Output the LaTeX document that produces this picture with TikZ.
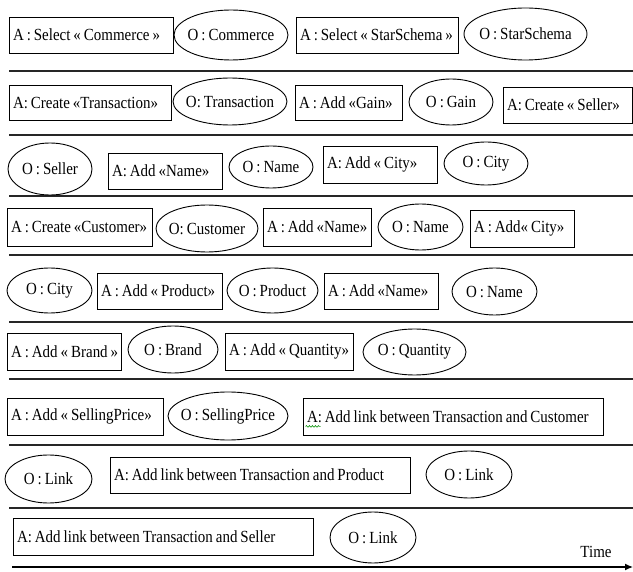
\documentclass[tikz,border=0pt]{standalone}
\usepackage{fontspec}
\setmainfont{Liberation Serif}[FakeStretch=0.88, WordSpace=0.8]
\usetikzlibrary{shapes.geometric,arrows.meta,decorations.pathmorphing}
\begin{document}
\begin{tikzpicture}[x=1pt,y=-1pt,
  every node/.style={font=\fontsize{17}{19}\selectfont, text=black},
  abox/.style={draw, line width=0.9pt, rectangle, inner xsep=4pt, inner ysep=0pt, minimum height=36pt, align=left,
    execute at begin node={\spaceskip=0pt\xspaceskip=0pt\relax}},
  oell/.style={draw, line width=0.9pt, ellipse, inner sep=0pt},
  sepline/.style={line width=1.2pt, draw=black!85}]
\useasboundingbox (0,0) rectangle (633,572);

% separators
\foreach \yy in {71,135,196,255,322,379,445,508}
  \draw[sepline] (9,\yy) -- (633,\yy);

% row 1
\node[abox, text width=156pt] (a1) at (91,35) {\mbox{A : Select « Commerce »}};
\node[oell, minimum width=114pt, minimum height=50pt] (o1) at (231,35) {\makebox[0pt]{O : Commerce}};
\node[abox, text width=154pt] (a2) at (377,35) {\mbox{A : Select « StarSchema »}};
\node[oell, minimum width=123pt, minimum height=52pt] (o2) at (525.5,34) {\makebox[0pt]{O : StarSchema}};

% row 2
\node[abox, text width=154pt, minimum height=35pt] (a3) at (90,102.5) {\mbox{A: Create «Transaction»}};
\node[oell, minimum width=114pt, minimum height=47pt] (o3) at (230,101.5) {\makebox[0pt]{O: Transaction}};
\node[abox, text width=99pt, minimum height=35pt] (a4) at (348.5,102.5) {\mbox{A : Add «Gain»}};
\node[oell, minimum width=84pt, minimum height=46pt] (o4) at (451,102) {\makebox[0pt]{O : Gain}};
\node[abox, text width=121pt] (a5) at (567.5,105) {\mbox{A: Create « Seller»}};

% row 3
\node[oell, minimum width=84pt, minimum height=52pt] (o5) at (50,169) {\makebox[0pt]{O : Seller}};
\node[abox, text width=106pt] (a6) at (165,171) {\mbox{A: Add «Name»}};
\node[oell, minimum width=84pt, minimum height=42pt] (o6) at (271,167) {\makebox[0pt]{O : Name}};
\node[abox, text width=106pt, minimum height=37pt] (a7) at (380,164.5) {\mbox{A: Add « City»}};
\node[oell, minimum width=84pt, minimum height=43pt] (o7) at (486,163.5) {\makebox[0pt]{O : City}};

% row 4
\node[abox, text width=137pt, minimum height=38pt] (a8) at (79.5,227) {\mbox{A : Create «Customer»}};
\node[oell, minimum width=102pt, minimum height=47pt] (o8) at (207,228.5) {\makebox[0pt]{O: Customer}};
\node[abox, text width=100pt, minimum height=38pt] (a9) at (317,227) {\mbox{A : Add «Name»}};
\node[oell, minimum width=85pt, minimum height=46pt] (o9) at (420.5,227) {\makebox[0pt]{O : Name}};
\node[abox, text width=96pt, minimum height=37pt] (a10) at (522,228.5) {\mbox{A : Add« City»}};

% row 5
\node[oell, minimum width=85pt, minimum height=45pt] (o10) at (49.5,290.5) {\makebox[0pt]{O : City}};
\node[abox, text width=117pt] (a11) at (159.5,291) {\mbox{A : Add « Product»}};
\node[oell, minimum width=91pt, minimum height=45pt] (o11) at (272.5,290.5) {\makebox[0pt]{O : Product}};
\node[abox, text width=106pt] (a12) at (381,291) {\mbox{A : Add «Name»}};
\node[oell, minimum width=85pt, minimum height=47pt] (o12) at (494.5,291.5) {\makebox[0pt]{O : Name}};

% row 6
\node[abox, text width=106pt, minimum height=37pt] (a13) at (64,351.5) {\mbox{A : Add « Brand »}};
\node[oell, minimum width=90pt, minimum height=47pt] (o13) at (173,349.5) {\makebox[0pt]{O : Brand}};
\node[abox, text width=120pt, minimum height=37pt] (a14) at (289,351.5) {\mbox{A : Add « Quantity»}};
\node[oell, minimum width=103pt, minimum height=46pt] (o14) at (414.5,352) {\makebox[0pt]{O : Quantity}};

% row 7
\node[abox, text width=148pt, minimum height=37pt] (a15) at (85,416.5) {\mbox{A : Add « SellingPrice»}};
\node[oell, minimum width=120pt, minimum height=48pt] (o15) at (228,416) {\makebox[0pt]{O : SellingPrice}};
\node[abox, text width=292pt, minimum height=37pt] (a16) at (453,416.5) {\mbox{A: Add link between Transaction and Customer}};
\draw[green!55!black, line width=0.6pt, decorate, decoration={snake, amplitude=0.8pt, segment length=3pt}]
  ([xshift=3pt,yshift=9pt]a16.south west) -- ++(15,0);

% row 8
\node[oell, minimum width=87pt, minimum height=48pt] (o16) at (48.5,479) {\makebox[0pt]{O : Link}};
\node[abox, text width=292pt] (a17) at (260,475) {\mbox{A: Add link between Transaction and Product}};
\node[oell, minimum width=86pt, minimum height=47pt] (o17) at (469,474.5) {\makebox[0pt]{O : Link}};

% row 9
\node[abox, text width=292pt, minimum height=37pt] (a18) at (163,536.5) {\mbox{A: Add link between Transaction and Seller}};
\node[oell, minimum width=86pt, minimum height=51pt] (o18) at (373,537.5) {\makebox[0pt]{O : Link}};
\node (time) at (596,552) {Time};

% time axis
\coordinate (t0) at (12,567);
\coordinate (t1) at (633,567);
\draw[line width=1.3pt, -{Latex[length=8pt,width=7pt]}] (t0) -- (t1);
\end{tikzpicture}
\end{document}
